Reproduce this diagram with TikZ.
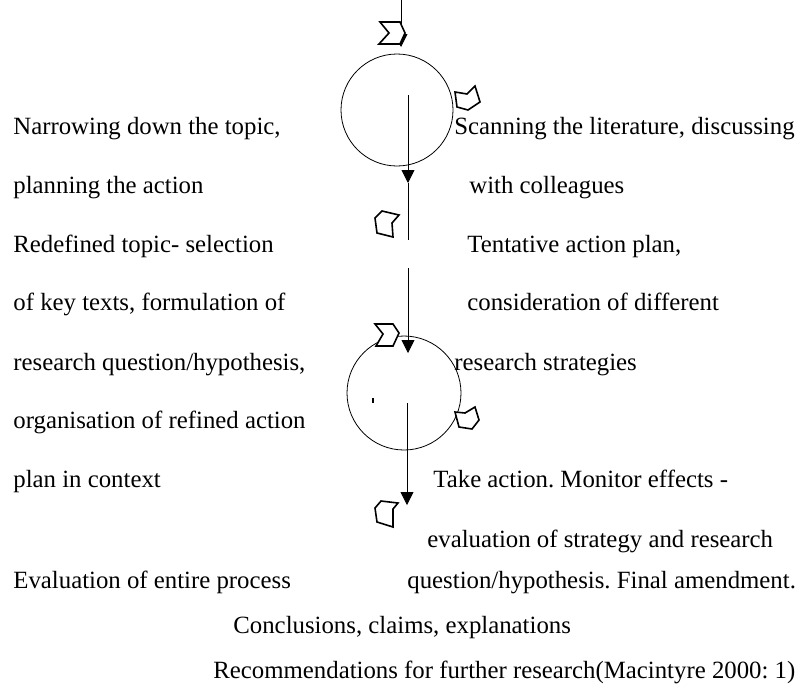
\documentclass[tikz,border=0pt]{standalone}
\usepackage{fontspec}
\setmainfont{Liberation Serif}
\usetikzlibrary{arrows.meta}
\frenchspacing
\tikzset{
	line width = .9pt,
	>={Triangle[length=6.5pt,width=6.5pt]},
	font = \fontsize{12.4}{15}\selectfont,
	stage/.style={
		draw,
		circle,
		inner sep=0pt
	},
	txt/.style={
		anchor=base west,
		inner sep=0pt
	},
	flag/.style={
		draw,
		fill=white,
		line width=.8pt
	},
	edge/.style={
		->
	}
}

\begin{document}
\begin{tikzpicture}[x=0.5pt, y=-0.5pt]
	\useasboundingbox (0,0) rectangle (802,687);
	% the two cycles
	\node (c1) [stage, minimum size=56pt] at (397,110) {};
	\node (c2) [stage, minimum size=57pt] at (404,393) {};
	\draw[line width=.6pt] (373,398) -- (373,403);

	% arrow ends
	\coordinate (in) at (401,0);
	\coordinate (t1) at (401,47);
	\coordinate (s1) at (408,95);
	\coordinate (m1) at (408,183);
	\coordinate (e1) at (408,240);
	\coordinate (s2) at (408,268);
	\coordinate (t2) at (408,353);
	\coordinate (s3) at (407,403);
	\coordinate (t3) at (407,505);

	\draw[edge] (in) -- (t1);
	\draw[edge] (s1) -- (m1);
	\draw (m1) -- (e1);
	\draw[edge] (s2) -- (t2);
	\draw[edge] (s3) -- (t3);

	% flags
	\draw[flag] (380,22) -- (400,22) -- (405,33) -- (400,44) -- (379,44) -- (389,33) -- cycle;
	\draw[flag] (455,92) -- (467,94) -- (475,86) -- (480,102) -- (468,110) -- (457,107) -- cycle;
	\draw[flag] (375,218) -- (382,211) -- (399,215) -- (392,223) -- (393,237) -- (377,233) -- cycle;
	\draw[flag] (375,324) -- (393,324) -- (399,333) -- (393,346) -- (376,346) -- (383,334) -- cycle;
	\draw[flag] (455,412) -- (465,413) -- (475,407) -- (479,420) -- (472,429) -- (459,427) -- cycle;
	\draw[flag] (375,508) -- (381,501) -- (398,503) -- (393,509) -- (393,527) -- (377,522) -- cycle;

	% left column
	\node (l1) [txt] at (13,134) {Narrowing down the topic,};
	\node (l2) [txt] at (13,193) {planning the action};
	\node (l3) [txt] at (13,252) {Redefined topic- selection};
	\node (l4) [txt] at (13,310) {of key texts, formulation of};
	\node (l5) [txt] at (13,370) {research question/hypothesis,};
	\node (l6) [txt] at (13,428) {organisation of refined action};
	\node (l7) [txt] at (13,487) {plan in context};
	\node (l8) [txt] at (13,588) {Evaluation of entire process};

	% right column
	\node (r1) [txt] at (454,134) {Scanning the literature, discussing};
	\node (r2) [txt] at (469,193) {with colleagues};
	\node (r3) [txt] at (467,252) {Tentative action plan,};
	\node (r4) [txt] at (467,310) {consideration of different};
	\node (r5) [txt] at (454,370) {research strategies};
	\node (r6) [txt] at (433,487) {Take action. Monitor effects -};
	\node (r7) [txt] at (427,547) {evaluation of strategy and research};
	\node (r8) [txt] at (407,588) {question/hypothesis. Final amendment.};

	% bottom lines
	\node (b1) [txt] at (233,633) {Conclusions, claims, explanations};
	\node (b2) [txt] at (213,678) {Recommendations for further research(Macintyre 2000: 1)};
\end{tikzpicture}
\end{document}
